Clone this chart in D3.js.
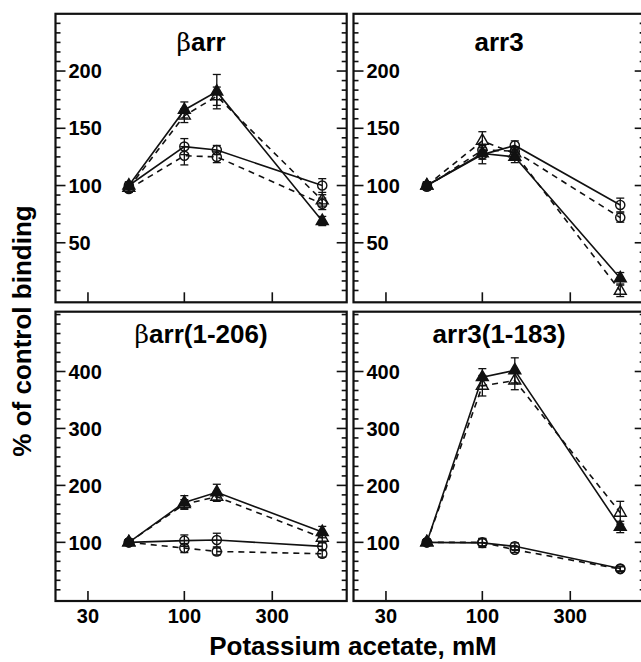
<!DOCTYPE html>
<html>
<head>
<meta charset="utf-8">
<script src="https://cdn.jsdelivr.net/npm/d3@7"></script>
<style>
  body { margin: 0; background: #fff; }
  svg { display: block; }
</style>
</head>
<body>
<script>
// potassium acetate concentrations (mM)
var conc = [50, 100, 150, 560];

var panelTitles = [["β", "arr"], ["", "arr3"], ["β", "arr(1-206)"], ["", "arr3(1-183)"]];

// one row per panel: βarr, arr3, βarr(1-206), arr3(1-183)
var triSolid    = [[100, 166, 182, 69], [100, 128, 125, 19], [100, 170, 188, 118], [100, 390, 402, 127]];
var triSolidErr = [[3, 7, 15, 4], [3, 5, 5, 5], [5, 12, 14, 10], [5, 15, 22, 10]];
var triDash     = [[98, 161, 178, 87], [100, 139, 128, 8], [100, 167, 180, 108], [100, 375, 384, 152]];
var triDashErr  = [[3, 6, 8, 5], [3, 8, 5, 5], [5, 8, 8, 8], [5, 18, 16, 20]];
var circSolid    = [[100, 134, 131, 100], [100, 127, 135, 83], [100, 103, 104, 93], [100, 99, 93, 54]];
var circSolidErr = [[3, 7, 4, 6], [3, 8, 4, 6], [5, 10, 12, 6], [5, 8, 6, 4]];
var circDash     = [[97, 126, 125, 84], [99, 131, 130, 72], [100, 90, 84, 80], [100, 100, 87, 53]];
var circDashErr  = [[3, 8, 5, 5], [3, 5, 4, 4], [5, 8, 6, 6], [5, 6, 5, 4]];

var xTicks = [30, 100, 300];
var topTicks = [50, 100, 150, 200];
var bottomTicks = [100, 200, 300, 400];

var width = 641, height = 662;
var font = "'Liberation Sans', Arial, Helvetica, sans-serif";

var svg = d3.select("body").append("svg")
    .attr("width", width)
    .attr("height", height)

var cols = [[55.5, 346.7], [353.5, 644.7]];
var rows = [[13.8, 302.3], [311.7, 601]];
var yDomains = [[-2, 250], [-3, 505]];
var minorSteps = [50/6, 100/6];

var panelIndex = 0;
rows.forEach((r, ri) => {
  cols.forEach((c, ci) => {
    drawPanel(panelIndex, c, r, ri);
    panelIndex++;
  });
});

function drawPanel(p, c, r, ri) {
  var g = svg.append("g").attr("class", "panel");

  var x = d3.scaleLog().domain([20, 760]).range(c);
  var y = d3.scaleLinear().domain(yDomains[ri]).range([r[1], r[0]]);

  // minor ticks on both vertical edges
  var step = minorSteps[ri];
  var minors = d3.range(step, yDomains[ri][1] - 1, step);
  var majors = ri == 0 ? topTicks : bottomTicks;
  minors.forEach(v => {
    var isMajor = majors.some(m => Math.abs(m - v) < 0.01);
    var len = isMajor ? 10 : 5;
    g.append("line")
      .attr("x1", c[0]).attr("x2", c[0] + len)
      .attr("y1", y(v)).attr("y2", y(v))
      .attr("stroke", "#111").attr("stroke-width", 1.6);
    g.append("line")
      .attr("x1", c[1]).attr("x2", c[1] - len)
      .attr("y1", y(v)).attr("y2", y(v))
      .attr("stroke", "#111").attr("stroke-width", 1.6);
  });

  // y tick labels, inside the frame
  g.selectAll(".ylab").data(majors).enter().append("text")
    .attr("x", c[0] + 13)
    .attr("y", d => y(d))
    .attr("dy", "0.36em")
    .attr("font-family", font)
    .attr("font-weight", "bold")
    .attr("font-size", 20)
    .text(d => d);

  // x ticks
  xTicks.forEach(t => {
    g.append("line")
      .attr("x1", x(t)).attr("x2", x(t))
      .attr("y1", r[1]).attr("y2", r[1] - 10)
      .attr("stroke", "#111").attr("stroke-width", 1.6);
  });
  if (ri == 1) {
    g.selectAll(".xlab").data(xTicks).enter().append("text")
      .attr("x", d => x(d))
      .attr("y", 623)
      .attr("text-anchor", "middle")
      .attr("font-family", font)
      .attr("font-weight", "bold")
      .attr("font-size", 20)
      .text(d => d);
  }

  // frame
  g.append("rect")
    .attr("x", c[0]).attr("y", r[0])
    .attr("width", c[1] - c[0]).attr("height", r[1] - r[0])
    .attr("fill", "none")
    .attr("stroke", "#111")
    .attr("stroke-width", 2.2);

  // title
  var title = g.append("text")
    .attr("x", (c[0] + c[1]) / 2)
    .attr("y", ri == 0 ? 51 : 343)
    .attr("text-anchor", "middle")
    .attr("font-family", font)
    .attr("font-weight", "bold")
    .attr("font-size", 26);
  if (panelTitles[p][0]) {
    title.append("tspan")
      .attr("font-family", "'DejaVu Serif', 'Liberation Serif', serif")
      .attr("font-weight", "normal")
      .attr("font-size", 25)
      .text(panelTitles[p][0]);
  }
  title.append("tspan").text(panelTitles[p][1]);

  var series = [
    { vals: circDash[p], err: circDashErr[p], dash: "6,5", mark: "circle", fill: "white" },
    { vals: circSolid[p], err: circSolidErr[p], dash: null, mark: "circle", fill: "white" },
    { vals: triDash[p], err: triDashErr[p], dash: "6,5", mark: "triangle", fill: "white" },
    { vals: triSolid[p], err: triSolidErr[p], dash: null, mark: "triangle", fill: "#111" }
  ];

  var line = d3.line()
    .x(d => x(d[0]))
    .y(d => y(d[1]));

  series.forEach(s => {
    var pts = conc.map((cx, i) => [cx, s.vals[i], s.err[i]]);

    g.append("path")
      .datum(pts)
      .attr("d", line)
      .attr("fill", "none")
      .attr("stroke", "#111")
      .attr("stroke-width", 1.6)
      .attr("stroke-dasharray", s.dash);
  });

  series.forEach(s => {
    var pts = conc.map((cx, i) => [cx, s.vals[i], s.err[i]]);
    var eb = g.append("g").attr("class", "errorbars");
    pts.forEach(d => {
      var px = x(d[0]);
      var top = y(d[1] + d[2]), bot = y(d[1] - d[2]);
      eb.append("line")
        .attr("x1", px).attr("x2", px).attr("y1", top).attr("y2", bot)
        .attr("stroke", "#111").attr("stroke-width", 1.3);
      [top, bot].forEach(yy => {
        eb.append("line")
          .attr("x1", px - 4).attr("x2", px + 4).attr("y1", yy).attr("y2", yy)
          .attr("stroke", "#111").attr("stroke-width", 1.3);
      });
    });

    var sym = s.mark == "circle" ? d3.symbolCircle : d3.symbolTriangle;
    var size = s.mark == "circle" ? 66 : 62;
    g.append("g").selectAll("path").data(pts).enter().append("path")
      .attr("d", d3.symbol().type(sym).size(size))
      .attr("transform", d => "translate(" + x(d[0]) + "," + y(d[1]) + ")")
      .attr("fill", s.fill)
      .attr("fill-opacity", s.fill == "white" ? 0 : 1)
      .attr("stroke", "#111")
      .attr("stroke-width", 1.4);
  });
}

// axis titles
svg.append("text")
  .attr("transform", "translate(31," + 331 + ") rotate(-90)")
  .attr("text-anchor", "middle")
  .attr("font-family", font)
  .attr("font-weight", "bold")
  .attr("font-size", 26)
  .text("% of control binding");

svg.append("text")
  .attr("x", 353)
  .attr("y", 655)
  .attr("text-anchor", "middle")
  .attr("font-family", font)
  .attr("font-weight", "bold")
  .attr("font-size", 26)
  .text("Potassium acetate, mM");
</script>
</body>
</html>
